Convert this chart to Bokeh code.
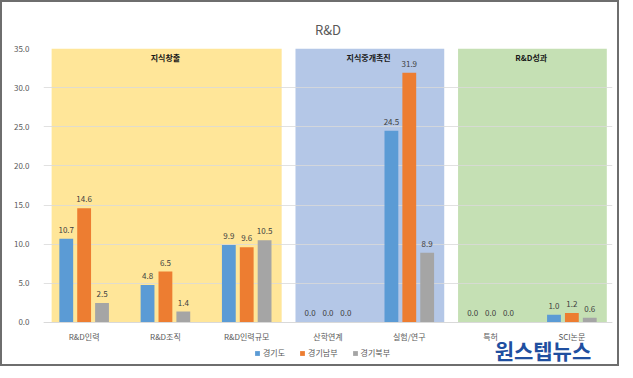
from bokeh.plotting import figure
from bokeh.models import Range1d, FixedTicker, NumeralTickFormatter, Legend, LegendItem, Label, ColumnDataSource
from bokeh.core.properties import value
from bokeh.embed import file_html
from bokeh.resources import INLINE

categories = ["R&D인력", "R&D조직", "R&D인력규모", "산학연계", "실험/연구", "특허", "SCI논문"]
series_names = ["경기도", "경기남부", "경기북부"]
gyeonggi = [10.7, 4.8, 9.9, 0.0, 24.5, 0.0, 1.0]
south = [14.6, 6.5, 9.6, 0.0, 31.9, 0.0, 1.2]
north = [2.5, 1.4, 10.5, 0.0, 8.9, 0.0, 0.6]
groups = ["지식창출", "지식중개촉진", "R&D성과"]
group_sizes = [3, 2, 2]
y_ticks = [0, 5, 10, 15, 20, 25, 30, 35]

colors = ["#5B9BD5", "#ED7D31", "#A5A5A5"]
band_colors = ["#FFE699", "#B4C7E7", "#C5E0B4"]
FONT = "Noto Sans CJK KR"

p = figure(frame_width=569, frame_height=316, output_backend="svg", toolbar_location=None,
           x_range=Range1d(0, len(categories)), y_range=Range1d(-5.365, 35),
           min_border_left=41, min_border_right=5, min_border_top=46, min_border_bottom=0)
p.styles = {"border": "2px solid #6e6e6e"}
p.outline_line_color = None
p.background_fill_color = "white"
p.border_fill_color = "white"

# title
p.title.text = "R&D"
p.title.align = "center"
p.title.text_font = FONT
p.title.text_font_size = "13px"
p.title.text_font_style = "normal"
p.title.text_color = "#595959"
p.title.standoff = 19

# bands
lefts, rights, centers = [], [], []
start = 0
for n in group_sizes:
    lefts.append(start + 0.1)
    rights.append(start + n - 0.07)
    centers.append(start + n / 2)
    start += n
band_src = ColumnDataSource(dict(left=lefts, right=rights, color=band_colors))
p.quad(left="left", right="right", bottom=0, top=35, color="color", source=band_src,
       line_color=None, level="image")
p.text(x=centers, y=[33.9] * 3, text=groups, text_font=value(FONT), text_font_size="8px",
       text_font_style="bold", text_align="center", text_baseline="middle", text_color="#1a1a1a")

# bars
offsets = [-0.22, 0.0, 0.22]
renderers = []
for vals, col, off in zip([gyeonggi, south, north], colors, offsets):
    xs = [i + 0.5 + off for i in range(len(categories))]
    r = p.vbar(x=xs, top=vals, width=0.17, bottom=0, color=col, line_color=None)
    renderers.append(r)
    p.text(x=xs, y=vals, text=[f"{v:.1f}" for v in vals], text_font=value(FONT),
           text_font_size="8px", text_align="center", text_baseline="bottom",
           text_color="#404040", y_offset=-6)

# axes
p.xaxis.fixed_location = 0
p.xaxis.ticker = FixedTicker(ticks=[i + 0.5 for i in range(len(categories))])
p.xaxis.major_label_overrides = {i + 0.5: c for i, c in enumerate(categories)}
p.xaxis.major_tick_line_color = None
p.xaxis.minor_tick_line_color = None
p.xaxis.axis_line_color = "#D9D9D9"
p.xaxis.major_label_text_font = FONT
p.xaxis.major_label_text_font_size = "8px"
p.xaxis.major_label_text_color = "#595959"
p.xaxis.major_label_standoff = 3

p.yaxis.ticker = FixedTicker(ticks=y_ticks)
p.yaxis.formatter = NumeralTickFormatter(format="0.0")
p.yaxis.major_tick_line_color = None
p.yaxis.minor_tick_line_color = None
p.yaxis.axis_line_color = None
p.yaxis.major_label_text_font = FONT
p.yaxis.major_label_text_font_size = "8px"
p.yaxis.major_label_text_color = "#595959"
p.yaxis.major_label_standoff = 8

p.xgrid.grid_line_color = None
p.ygrid.grid_line_color = "#D9D9D9"
p.ygrid.grid_line_alpha = 0.8

legend = Legend(items=[LegendItem(label=n, renderers=[r]) for n, r in zip(series_names, renderers)],
                orientation="horizontal", location=(211, 6),
                label_text_font=FONT, label_text_font_size="8px", label_text_color="#595959",
                glyph_width=6, glyph_height=6, spacing=14, label_standoff=3, label_height=8,
                border_line_color=None, background_fill_alpha=0, padding=2, margin=0)
p.add_layout(legend, "center")

# watermark
p.add_layout(Label(x=5.55, y=-3.55, text="원스텝뉴스", text_font=FONT, text_font_size="21px",
                   text_font_style="bold", text_color="#1F4FA0", text_baseline="middle", level="overlay"))

open("out.html", "w").write(file_html(p, INLINE))
